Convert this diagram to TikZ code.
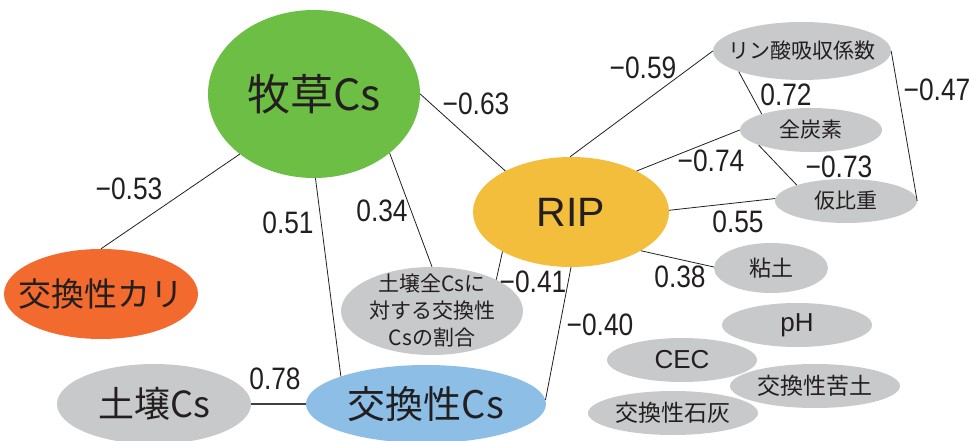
\documentclass[tikz,border=0pt]{standalone}
\usepackage{fontspec}
\setmainfont{Liberation Sans}
\newfontfamily\jp{Noto Sans CJK JP}
\newfontfamily\numf[FakeStretch=0.85]{Liberation Sans}
\usetikzlibrary{shapes.geometric}
\definecolor{cgreen}{HTML}{6DBE45}
\definecolor{corange}{HTML}{F26A2E}
\definecolor{cyellow}{HTML}{F2BE3B}
\definecolor{cblue}{HTML}{8CBEE6}
\definecolor{cgray}{HTML}{C8C9CB}
\definecolor{ctext}{HTML}{231F20}
\begin{document}
\begin{tikzpicture}[x=1pt,y=-1pt,
  el/.style={ellipse, inner sep=0pt, draw=none},
  lbl/.style={text=ctext, inner sep=0pt},
  val/.style={text=ctext, inner sep=0pt, font=\numf\fontsize{31}{31}\selectfont},
  link/.style={draw=ctext, line width=0.8pt}]
\useasboundingbox (0,0) rectangle (970,441);
\clip (0,0) rectangle (970,441);

% ellipses
\node[el, fill=cgreen, minimum width=212pt, minimum height=168pt] (mok) at (314,94) {};
\node[el, fill=corange, minimum width=194pt, minimum height=90pt] (kari) at (101,294) {};
\node[el, fill=cgray, minimum width=194pt, minimum height=80pt] (dojo) at (154,404) {};
\node[el, fill=cblue, minimum width=240pt, minimum height=78pt] (kcs) at (426,404) {};
\node[el, fill=cgray, minimum width=182pt, minimum height=88pt] (ratio) at (432,311) {};
\node[el, fill=cyellow, minimum width=196pt, minimum height=110pt] (rip) at (571,212) {};
\node[el, fill=cgray, minimum width=178pt, minimum height=58pt] (rinsan) at (802,51) {};
\node[el, fill=cgray, minimum width=142pt, minimum height=44pt] (tanso) at (811,130) {};
\node[el, fill=cgray, minimum width=142pt, minimum height=44pt] (kahi) at (846,201) {};
\node[el, fill=cgray, minimum width=114pt, minimum height=50pt] (nendo) at (771,268) {};
\node[el, fill=cgray, minimum width=150pt, minimum height=44pt] (ph) at (797,325) {};
\node[el, fill=cgray, minimum width=150pt, minimum height=44pt] (cec) at (682,360) {};
\node[el, fill=cgray, minimum width=170pt, minimum height=44pt] (kuto) at (815,386) {};
\node[el, fill=cgray, minimum width=170pt, minimum height=44pt] (sekkai) at (673,413) {};

% texts
\node[lbl, font=\jp\fontsize{43}{43}\selectfont] (mokt) at (mok) {牧草Cs};
\node[lbl, font=\jp\fontsize{33}{33}\selectfont] (karit) at (kari) {交換性カリ};
\node[lbl, font=\jp\fontsize{36}{36}\selectfont] (dojot) at (dojo) {土壌Cs};
\node[lbl, font=\jp\fontsize{38}{38}\selectfont] (kcst) at (kcs) {交換性Cs};
\node[lbl, font=\jp\fontsize{21}{27}\selectfont, align=center] (ratiot) at (ratio) {土壌全Csに\\対する交換性\\Csの割合};
\node[lbl, font=\fontsize{41}{41}\selectfont] (ript) at (rip) {RIP};
\node[lbl, font=\jp\fontsize{21}{21}\selectfont] (rinsant) at (rinsan) {リン酸吸収係数};
\node[lbl, font=\jp\fontsize{21}{21}\selectfont] (tansot) at (tanso) {全炭素};
\node[lbl, font=\jp\fontsize{21}{21}\selectfont] (kahit) at (kahi) {仮比重};
\node[lbl, font=\jp\fontsize{22}{22}\selectfont] (nendot) at (nendo) {粘土};
\node[lbl, font=\fontsize{26}{26}\selectfont] (pht) at (ph) {pH};
\node[lbl, font=\fontsize{26}{26}\selectfont] (cect) at (cec) {CEC};
\node[lbl, font=\jp\fontsize{23}{23}\selectfont] (kutot) at (kuto) {交換性苦土};
\node[lbl, font=\jp\fontsize{23}{23}\selectfont] (sekkait) at (sekkai) {交換性石灰};

% connectors
\draw[link] (mok.219) -- (kari.90);
\draw[link] (mok.271) -- (kcs.162);
\draw[link] (mok.322) -- (ratio.90);
\draw[link] (mok.0) -- (rip.148);
\draw[link] (rip.91) -- (rinsan.180);
\draw[link] (rip.32) -- (tanso.180);
\draw[link] (rip.1) -- (kahi.178);
\draw[link] (rip.331) -- (nendo.179);
\draw[link] (rip.210) -- (ratio.26);
\draw[link] (rip.270) -- (kcs.2);
\draw[draw=black!75, line width=1.3pt] (dojo.0) -- (kcs.180);
\draw[link] (rinsan.198) -- (tanso.162);
\draw[link] (tanso.196) -- (kahi.162);
\draw[link] (rinsan.0) -- (kahi.0);

% values
\node[val] (v1) at (129,189) {−0.53};
\node[val] (v2) at (288,223) {0.51};
\node[val] (v3) at (382,211) {0.34};
\node[val] (v4) at (275,379) {0.78};
\node[val] (v5) at (476,104) {−0.63};
\node[val] (v6) at (643,68) {−0.59};
\node[val] (v7) at (786,95) {0.72};
\node[val] (v8) at (937,90) {−0.47};
\node[val] (v9) at (711,161) {−0.74};
\node[val] (v10) at (839,167) {−0.73};
\node[val] (v11) at (738,222) {0.55};
\node[val] (v12) at (680,277) {0.38};
\node[val] (v13) at (533,282) {−0.41};
\node[val] (v14) at (600,325) {−0.40};
\end{tikzpicture}
\end{document}
